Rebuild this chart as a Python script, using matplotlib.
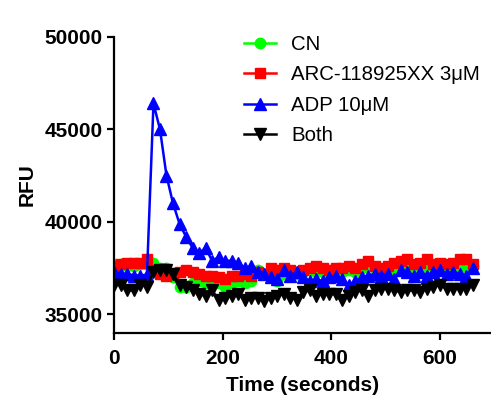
import numpy as np
import matplotlib
matplotlib.use('Agg')
import matplotlib.pyplot as plt

# time points (seconds), one read every 12 s
time_s = np.arange(0, 661, 12)

cn = [37700, 37700, 37600, 37600, 37700, 37700, 37800, 37500, 37500, 37000,
      36500, 36500, 36700, 36800, 36700, 36800, 36700, 36500, 36700, 36800,
      36700, 36800, 37400, 37200, 37100, 36800, 37200, 37300, 37200, 37300,
      37400, 37300, 37300, 37300, 37400, 37300, 37400, 37300, 37500, 37600,
      37500, 37400, 37500, 37400, 37400, 37500, 37400, 37500, 37500, 37600,
      37700, 37600, 37500, 37500, 37600, 37600]
arc = [37600, 37700, 37800, 37800, 37800, 38000, 37400, 37200, 37100, 37200,
       37300, 37400, 37300, 37200, 37100, 37100, 37000, 36900, 37100, 37100,
       37200, 37100, 37300, 37200, 37500, 37400, 37500, 37400, 37300, 37400,
       37500, 37600, 37500, 37400, 37500, 37500, 37600, 37500, 37700, 37900,
       37600, 37500, 37600, 37800, 37900, 38000, 37700, 37800, 38000, 37700,
       37800, 37700, 37800, 38000, 38000, 37700]
adp = [37300, 37200, 37200, 37100, 37100, 37150, 46400, 45000, 42500, 41000,
       39900, 39200, 38600, 38300, 38600, 37900, 38100, 37900, 37900, 37800,
       37500, 37600, 37300, 37200, 37000, 36900, 37400, 37100, 37300, 37000,
       36800, 36900, 36800, 37000, 37100, 36900, 36600, 36800, 37000, 37100,
       37200, 37100, 37200, 36900, 37400, 37300, 37100, 37300, 37100, 37300,
       37400, 37200, 37300, 37200, 37100, 37500]
both = [36600, 36600, 36300, 36300, 36600, 36500, 37300, 37400, 37400, 37200,
        36600, 36500, 36300, 36100, 36000, 36300, 35800, 35900, 36000, 36100,
        35800, 35900, 35900, 35700, 35900, 36000, 36100, 35900, 35800, 36200,
        36300, 36000, 36100, 36100, 36100, 35800, 36000, 36200, 36300, 36000,
        36300, 36400, 36400, 36300, 36200, 36300, 36300, 36200, 36400, 36500,
        36600, 36400, 36400, 36400, 36400, 36600]

plt.rcParams['font.family'] = ['Liberation Sans', 'DejaVu Sans']

fig = plt.figure(figsize=(4.91, 4.05), dpi=100)
ax = fig.add_axes([0.233, 0.178, 0.767, 0.731])

ax.plot(time_s, cn, color='#00ff00', marker='o', markersize=7.5, linewidth=1.8, label='CN')
ax.plot(time_s, arc, color='#ff0000', marker='s', markersize=7.5, linewidth=1.8, label='ARC-118925XX 3μM')
ax.plot(time_s, adp, color='#0000ff', marker='^', markersize=8, linewidth=1.8, label='ADP 10μM')
ax.plot(time_s, both, color='black', marker='v', markersize=8, linewidth=1.8, label='Both')

ax.set_xlim(0, 694)
ax.set_ylim(34000, 50000)
ax.set_xticks([0, 200, 400, 600])
ax.set_yticks([35000, 40000, 45000, 50000])
ax.spines['top'].set_visible(False)
ax.spines['right'].set_visible(False)
ax.spines['left'].set_bounds(34000, 50000)
for s in ['left', 'bottom']:
    ax.spines[s].set_linewidth(1.6)
ax.tick_params(width=1.6, length=5, labelsize=15)
ax.tick_params(axis='x', pad=6.5)
ax.tick_params(axis='y', pad=3.5)
for lbl in ax.get_xticklabels() + ax.get_yticklabels():
    lbl.set_fontweight('bold')

ax.set_xlabel('Time (seconds)', fontsize=15, fontweight='bold', labelpad=6)
ax.set_ylabel('RFU', fontsize=15, fontweight='bold', labelpad=6)

leg = ax.legend(loc='upper left', bbox_to_anchor=(0.497, 0.913), bbox_transform=fig.transFigure,
                frameon=False, fontsize=14.7, handlelength=1.55, handletextpad=0.75,
                labelspacing=0.55, borderpad=0, borderaxespad=0)

fig.savefig('out.png', dpi=100)
